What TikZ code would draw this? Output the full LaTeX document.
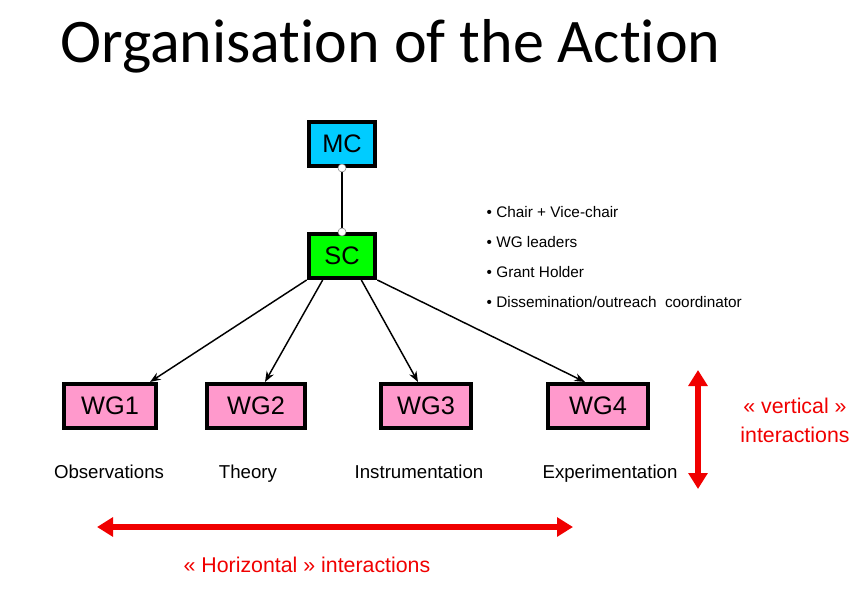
\documentclass[tikz,border=0pt]{standalone}
\usepackage{fontspec}
\setmainfont{Liberation Sans}
\newfontfamily\titlefont[Ligatures={NoCommon}]{Carlito}
\usetikzlibrary{arrows.meta}
\definecolor{mcblue}{RGB}{0,204,255}
\definecolor{scgreen}{RGB}{0,255,0}
\definecolor{wgpink}{RGB}{255,153,204}
\definecolor{actred}{RGB}{240,0,0}
\tikzset{
  box/.style={draw=black,line width=3pt,minimum height=33pt,inner sep=0pt,font=\fontsize{19}{21}\selectfont},
  wg/.style={box,fill=wgpink},
  lbl/.style={font=\fontsize{14}{16}\selectfont,anchor=base},
  bul/.style={font=\fontsize{11.5}{13}\selectfont,anchor=west},
  red/.style={text=actred,font=\fontsize{16}{18}\selectfont},
  dot/.style={circle,draw=gray,fill=white,inner sep=0pt,minimum size=6pt,thin},
  link/.style={-{Stealth[length=8pt]},line width=1.1pt}
}
\begin{document}
\begin{tikzpicture}[x=0.75pt,y=-0.75pt]
\useasboundingbox (0,0) rectangle (861,607);
\node[anchor=base west,font=\titlefont\fontsize{46.5}{50}\selectfont,inner sep=0pt] (title) at (60,62) {Organisation of the Action};

\node[box,fill=mcblue,minimum width=50pt] (mc) at (342,144) {MC};
\node[box,fill=scgreen,minimum width=50pt] (sc) at (342,256) {SC};
\draw[line width=1.1pt] (mc.south) -- (sc.north);
\node[dot] (mcdot) at (mc.south) {};
\node[dot] (scdot) at (sc.north) {};

\node[wg,minimum width=69pt] (wg1) at (110,406) {WG1};
\node[wg,minimum width=74pt] (wg2) at (256,406) {WG2};
\node[wg,minimum width=68pt] (wg3) at (426,406) {WG3};
\node[wg,minimum width=75pt] (wg4) at (598,406) {WG4};

\draw[link] (sc.south west) -- (wg1.north -| 150,0);
\draw[link] ([xshift=12pt]sc.south west) -- (wg2.north -| 265,0);
\draw[link] ([xshift=-12pt]sc.south east) -- (wg3.north -| 418,0);
\draw[link] (sc.south east) -- (wg4.north -| 585,0);

\node[lbl] (obs) at (109,478) {Observations};
\node[lbl] (theo) at (248,478) {Theory};
\node[lbl] (instr) at (419,478) {Instrumentation};
\node[lbl] (exper) at (610,478) {Experimentation};

\node[bul] (b1) at (482,212) {• Chair + Vice-chair};
\node[bul] (b2) at (482,242) {• WG leaders};
\node[bul] (b3) at (482,272) {• Grant Holder};
\node[bul] (b4) at (482,302) {• Dissemination/outreach\ \ coordinator};

\coordinate (vtop) at (698,370);
\coordinate (vbot) at (698,489);
\coordinate (hl) at (97,527);
\coordinate (hr) at (573,527);
\draw[actred,line width=4pt,{Triangle[length=12pt,width=14pt]}-{Triangle[length=12pt,width=14pt]}] (vtop) -- (vbot);
\draw[actred,line width=4pt,{Triangle[length=12pt,width=14pt]}-{Triangle[length=12pt,width=14pt]}] (hl) -- (hr);
\node[red] (vert) at (795,406) {« vertical »};
\node[red] (vint) at (795,435) {interactions};
\node[red] (horiz) at (307,565) {« Horizontal » interactions};
\end{tikzpicture}
\end{document}
